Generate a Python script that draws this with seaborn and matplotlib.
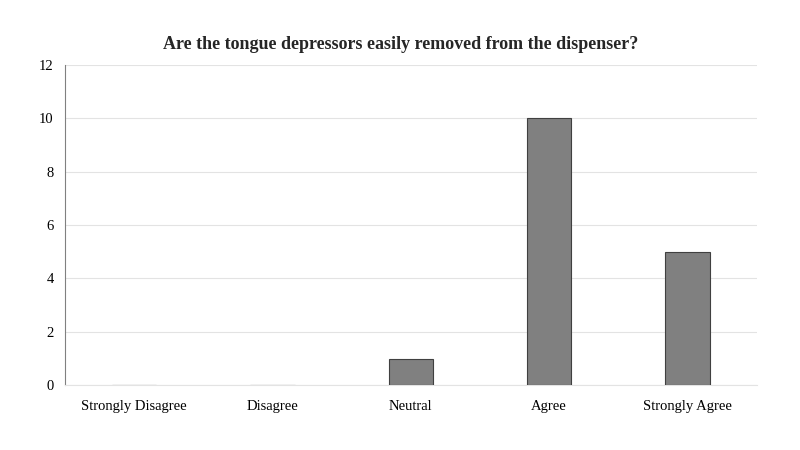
import matplotlib
matplotlib.use("Agg")
import pandas as pd
import seaborn as sns
import matplotlib.pyplot as plt

# data
categories = ["Strongly Disagree", "Disagree", "Neutral", "Agree", "Strongly Agree"]
counts = [0, 0, 1, 10, 5]

df = pd.DataFrame({"answer": categories, "count": counts})

sns.set_style("white")
plt.rcParams["font.family"] = ["Liberation Serif", "DejaVu Serif"]

fig = plt.figure(figsize=(8, 4.5), dpi=100)
ax = fig.add_axes([0.081, 0.144, 0.865, 0.712])

sns.barplot(data=df, x="answer", y="count", color="#808080", saturation=1,
            width=0.32, edgecolor="#404040", linewidth=0.8, ax=ax, zorder=3)

ax.set_ylim(0, 12)
ax.set_yticks(range(0, 13, 2))
ax.yaxis.grid(True, color="#e3e3e3", linewidth=0.8, zorder=0)
ax.set_axisbelow(True)
ax.set_xlabel("")
ax.set_ylabel("")
ax.tick_params(axis="y", length=0, labelsize=10.5, colors="black", pad=8)
ax.tick_params(axis="x", length=0, labelsize=10.5, colors="black", pad=11)

for s in ["top", "right"]:
    ax.spines[s].set_visible(False)
ax.spines["left"].set_color("#808080")
ax.spines["left"].set_linewidth(0.8)
ax.spines["bottom"].set_color("#e3e3e3")
ax.spines["bottom"].set_linewidth(0.8)

# title is centred on the figure, not on the plot area
ax.set_title("Are the tongue depressors easily removed from the dispenser?",
             fontsize=13, fontweight="bold", pad=11.5, x=0.485)

fig.savefig("out.png", dpi=100)
